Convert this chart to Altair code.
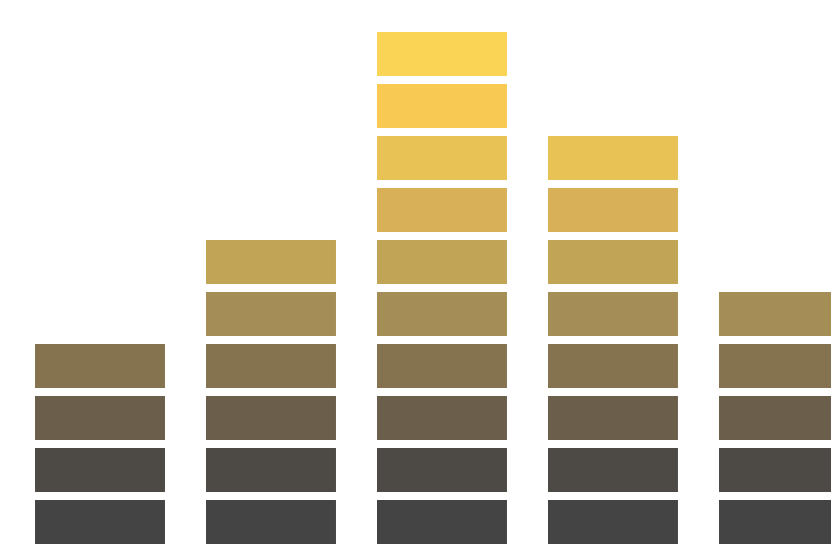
import altair as alt
import pandas as pd

columns = [0, 1, 2, 3, 4]
counts = [4, 6, 10, 8, 5]
levels = [1, 2, 3, 4, 5, 6, 7, 8, 9, 10]
level_colors = ["#444444", "#4d4944", "#6b5e4b", "#857350", "#a58e55",
                "#c2a456", "#d8b058", "#e8c255", "#f8ca52", "#fad455"]

rows = []
for c, n in zip(columns, counts):
    for lv in levels[:n]:
        rows.append({"col": c, "level": lv})
df = pd.DataFrame(rows)

half = 0.38
blk = 0.845

chart = alt.Chart(df).transform_calculate(
    x0=f"datum.col - {half}", x1=f"datum.col + {half}",
    y0="datum.level - 1", y1=f"datum.level - 1 + {blk}"
).mark_rect(clip=True).encode(
    x=alt.X("x0:Q", scale=alt.Scale(domain=[-0.538, 4.275], nice=False, zero=False), axis=None),
    x2="x1:Q",
    y=alt.Y("y0:Q", scale=alt.Scale(domain=[0.0, 10.307], nice=False, zero=False), axis=None),
    y2="y1:Q",
    color=alt.Color("level:O", scale=alt.Scale(domain=levels, range=level_colors), legend=None),
).properties(width=823, height=536, padding=0).configure_view(stroke=None)

chart.save("out.html", embed_options={"renderer": "svg", "actions": False})
